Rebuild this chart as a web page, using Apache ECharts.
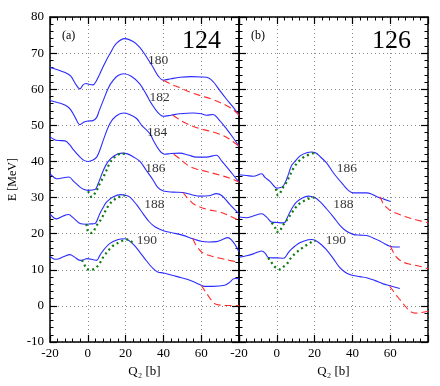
<!DOCTYPE html>
<html>
<head>
<meta charset="utf-8">
<script src="https://cdn.jsdelivr.net/npm/echarts@6/dist/echarts.min.js"></script>
<style>
  html, body { margin: 0; padding: 0; background: #fff; }
  #chart { width: 440px; height: 386px; }
</style>
</head>
<body>
<div id="chart"></div>
<script type="text/javascript">
	// panel (a), Z = 124 : blue = full curve, red = dashed branch, green = dotted
	var a180 = [[-20,66],[-16,65.4],[-12,64.6],[-9,63.6],[-6.5,61.5],[-4.2,60.1],[-2.5,61.2],[-1,61.6],[1,61.3],[2.8,61.2],[4.5,62.3],[6.4,64.3],[9,67.2],[11.7,69.8],[15,72.6],[19.6,74],[24,73.2],[27.5,71.6],[31,69],[34.6,66],[37.5,63.5],[40,62.5],[44,62.9],[48.7,63.3],[55,63.5],[60,63.4],[64,63.1],[66.5,62],[69.8,59.7],[73,57.5],[76.8,55.1],[80,52.8]];
	var a180d = [[40,62.5],[44,61.4],[48.7,60.4],[54,59.2],[59.2,58.3],[66.3,57.1],[73.3,55.5],[77,54.3],[80,52.8]];
	var a182 = [[-20,56.9],[-16,56.3],[-13.8,56],[-11,55.3],[-9,54.3],[-6.5,52],[-4.2,50.2],[-2,50.9],[0,51.2],[2.7,51.3],[4.7,52.2],[6,54],[8.2,56.9],[11,60.5],[13.5,62.5],[16,63.8],[19.1,64.3],[23,63.6],[27.5,61.5],[31,58.5],[33.7,56],[37,53.6],[40,52.5],[44,52.8],[48.7,53.2],[55.7,53.4],[60,53.2],[62.7,52.8],[66.3,53],[69,51.8],[73.3,49.1],[77,46.5],[80,44.2]];
	var a182d = [[45,52.8],[48.5,51.6],[52.2,50.5],[59.2,49.1],[68,47.9],[74,46.5],[80,44.2]];
	var a184 = [[-20,46.8],[-17.5,46],[-15.6,45.8],[-12,45.7],[-9.4,44.5],[-8,43.5],[-4.1,41.2],[-2,40.3],[0.2,40],[2.5,40.3],[4.7,41.2],[6.5,43.3],[8.2,45.9],[11.7,50.5],[15,52.6],[19,53.4],[22,53],[25.8,51.9],[28.5,50],[32.8,47.7],[35,45.5],[38,43],[40.7,42],[44,42.2],[48.7,42.3],[53,41.8],[57.5,41.2],[62.7,41.2],[68,41.7],[71,40],[75,37.5],[80,34.3]];
	var a184d = [[45.5,42],[49,40.6],[53,38.9],[57,38],[62.8,37.2],[70,36.2],[76,35.2],[80,34.3]];
	var a186 = [[-20,36.6],[-18,35.6],[-16.5,35.2],[-13,35.5],[-10,35.7],[-7.5,34.5],[-4.1,32.9],[-2,32.2],[0.2,32],[3.8,32.2],[5.5,33.9],[8.2,37.5],[10.5,39.8],[14,41.6],[18,42.3],[21,42.1],[24,41.3],[27.6,40],[31,37.5],[34.6,34.8],[37,32.8],[40,31.8],[45,31.5],[50.4,31.4],[55,30.8],[59.3,30.4],[64,30.5],[68,31.1],[71,30.5],[75,28.2],[80,25.5]];
	var a186d = [[50.4,31.4],[52.5,30],[54,29.2],[56,28.2],[59.3,27.4],[64,26.6],[69.8,26],[75,24.9],[80,23.7]];
	var a186g = [[0.2,31.8],[2,30.2],[4.7,32],[6.4,33.9],[9.1,36.6],[11.7,39.6],[14.5,41.3],[17.9,42.2],[20.5,42]];
	var a188 = [[-20,25.5],[-18,24.4],[-16.5,24.1],[-13,24.9],[-10.3,25.3],[-7.5,24.3],[-4.1,22.8],[-1,22.6],[1.5,22.7],[3.8,22.8],[5,23.8],[6.4,25.6],[8.5,27.6],[10,28.8],[13.5,30.2],[17.5,30.8],[20,30.6],[22.3,30.1],[26,27.9],[29.3,25.5],[32.5,23.3],[35.5,21.9],[40,20.8],[45,20.2],[50,19.6],[55.6,18.6],[60,17.9],[64,17.7],[68,17.8],[71,18.3],[74.1,18.9],[76,18.3],[78,16.9],[80,15]];
	var a188d = [[55.6,18.6],[57,17],[58.5,15.9],[60.5,14.8],[64,14],[70,13.2],[75,12.6],[80,12.1]];
	var a188g = [[-1,22.6],[-0.6,22.3],[0.2,20.5],[2,20.2],[4.7,22.3],[7.3,24.2],[9,26],[11.7,28.3],[14.5,29.6],[17,30.2],[19.5,30.5]];
	var a190 = [[-20,13.7],[-18,13],[-16.5,12.9],[-13,13.6],[-9.4,14.2],[-7,13.5],[-4.1,12.6],[-2,12.8],[-0.6,13.1],[2.9,12.8],[4.6,12.6],[6.4,14],[8.2,15.4],[11.7,17.3],[16.1,18.4],[19.6,18.6],[22,18],[24.5,16.8],[27.5,14.9],[31,12.5],[34.6,10.3],[37,9.4],[40,9.1],[45,8.4],[49.5,7.8],[55,6.9],[59.2,5.9],[61.8,5.4],[66,5.4],[72.4,5.7],[75,6.5],[76.8,7.4],[78,7.6],[80,7.5]];
	var a190d = [[60,5.7],[61.5,4.5],[63.6,2.9],[65.5,1.5],[67.2,0.6],[70,0.2],[73.3,0.1],[80,0.1]];
	var a190g = [[-3.3,12.6],[-2.4,12.2],[-0.6,10.3],[2,10],[5.5,11.2],[8.2,13.5],[12.6,16.3],[17,17.7],[21.4,18.4],[24,17.2]];

	// panel (b), Z = 126
	var b186 = [[-20,36.3],[-16,36.1],[-12.4,35.9],[-8,36.6],[-6.3,35.6],[-3.6,34.5],[-1.5,33.2],[-0.1,32.6],[2,32.8],[3.4,33.2],[5,34.8],[6,36.2],[7.8,38.9],[9.6,40],[12.5,41.6],[15.8,42.4],[18.5,42.6],[20.2,42.5],[23,41.3],[26.3,39.6],[30,36.8],[35.2,33.5],[38,31.9],[40.4,31.3],[44,31.3],[47.5,31.3],[50,31],[53.7,30.1],[57,29.5],[60.2,28.9]];
	var b186d = [[54.5,30.2],[55.5,29.2],[56.3,28.3],[58,27.3],[59.8,26.5],[64,25.5],[68.6,24.6],[74,23.8],[80,23]];
	var b186g = [[-0.5,32.4],[-0.1,31.5],[0.6,30.6],[2,31.5],[3.5,33],[5.2,34.3],[7,36.2],[8.7,38],[11,39.7],[14,41.1],[17,41.9],[20,42.3],[21.5,42]];
	var b188 = [[-20,24.6],[-16,24.4],[-12.4,24.9],[-8,25.5],[-5.4,24.6],[-2.7,23.2],[0,23.1],[3.4,23],[4.3,23.1],[5.6,24.5],[7,26],[8.7,27.6],[10.5,28.8],[13.5,29.9],[16.6,30.4],[20,30],[23,28.8],[26.3,26.9],[30,24.6],[33.4,22.3],[36.5,20.8],[40.4,19.8],[44,19.6],[47.5,19.5],[51,18.8],[54.5,18],[57,17.2],[59.8,16.5],[62,16.3],[65.1,16.3]];
	var b188d = [[60.2,16.5],[61.5,15],[63.3,13.5],[65,12.7],[66.9,12.1],[70,11.6],[75.6,11],[80,10.3]];
	var b188g = [[-2.7,23],[-1,21.8],[-0.1,20.5],[1.7,20.7],[2.6,21.8],[5.2,23.7],[7,25],[9.6,27],[12,28.3],[14.9,29.2],[17.5,29.8],[20,30]];
	var b190 = [[-20,13.5],[-16,13.9],[-12.4,14.4],[-8,15.2],[-6,14.5],[-4.5,13.4],[-2,13.3],[0,13.3],[3.4,13.2],[4.5,13.5],[6,14.7],[7.5,15.6],[9.5,16.5],[12.2,17.5],[16.6,18.3],[18.5,18.4],[21.1,17.9],[23,17.2],[26,15.7],[29.9,13.1],[33,10.8],[36,9.4],[38.5,8.7],[40.4,8.4],[44,8.1],[47.5,7.8],[52,7],[56.3,6.1],[60,5.6],[65.1,4.8]];
	var b190d = [[59.8,5.4],[61.5,4.2],[63.3,2.9],[65.5,1.5],[67.7,0.1],[69.5,-1],[71.2,-1.7],[73,-2],[75.6,-1.9],[80,-1.5]];
	var b190g = [[-4.5,13.3],[-3.6,12.6],[-1,10.8],[0.8,10.3],[1.7,10.1],[4.3,11.2],[5.2,11.5],[7.8,13.5],[10,14.6],[13.1,15.9],[16.5,17.1],[19.3,17.9],[20.5,18]];

	// curve labels (N) and where they sit
	var labelsA = [[37.2,68,'180'],[38,57.8,'182'],[36.7,48,'184'],[35.7,38,'186'],[35.2,28,'188'],[31.2,18,'190']];
	var labelsB = [[37.1,38,'186'],[35.2,28.1,'188'],[31.3,18,'190']];

	var xTicks = [-20, 80, 20];
	var yTicks = [-10, 80, 10];

	var FONT = 'Liberation Serif';
	var BLUE = '#2b2bff', RED = '#ff2a2a', GREEN = '#0c7a0c';

	function xAx(g, pos, labels) {
		return {
			gridIndex : g, type : 'value', position : pos,
			min : xTicks[0], max : xTicks[1], interval : xTicks[2],
			axisLine : { onZero : false, lineStyle : { color : '#000', width : 1.5 } },
			axisTick : { inside : true, length : 7, lineStyle : { color : '#000', width : 1.2 } },
			minorTick : { show : true, splitNumber : 5, length : 3.5, lineStyle : { color : '#000', width : 1 } },
			axisLabel : { show : labels, showMaxLabel : false, color : '#000', fontFamily : FONT, fontSize : 13, margin : 5 },
			splitLine : { show : labels, lineStyle : { color : '#8a8a8a', type : [1, 3], width : 1 } },
			name : labels ? 'Q\u2082 [b]' : '',
			nameLocation : 'middle', nameGap : 22,
			nameTextStyle : { color : '#000', fontFamily : FONT, fontSize : 13 }
		};
	}
	function yAx(g, pos, labels, grid) {
		return {
			gridIndex : g, type : 'value', position : pos,
			min : yTicks[0], max : yTicks[1], interval : yTicks[2],
			axisLine : { onZero : false, lineStyle : { color : '#000', width : 1.5 } },
			axisTick : { inside : true, length : 7, lineStyle : { color : '#000', width : 1.2 } },
			minorTick : { show : true, splitNumber : 5, length : 3.5, lineStyle : { color : '#000', width : 1 } },
			axisLabel : { show : labels, color : '#000', fontFamily : FONT, fontSize : 13, margin : 6 },
			splitLine : { show : grid, lineStyle : { color : '#8a8a8a', type : [1, 3], width : 1 } },
			name : labels ? 'E [MeV]' : '',
			nameLocation : 'middle', nameGap : 31,
			nameTextStyle : { color : '#000', fontFamily : FONT, fontSize : 12 }
		};
	}

	function line(d, g, kind) {
		var ls = { color : BLUE, width : 1.1 };
		if (kind === 'd') ls = { color : RED, width : 1.1, type : [7, 4] };
		if (kind === 'g') ls = { color : GREEN, width : 2.2, type : [2, 3.2] };
		return {
			type : 'line', data : d, xAxisIndex : g * 2, yAxisIndex : g * 2,
			smooth : 0.35, showSymbol : false, symbol : 'none',
			lineStyle : ls, z : kind === 'g' ? 3 : 2, silent : true
		};
	}
	function labels(d, g) {
		return {
			type : 'scatter', data : d, xAxisIndex : g * 2, yAxisIndex : g * 2,
			symbolSize : 1, itemStyle : { color : 'rgba(0,0,0,0)' }, z : 5,
			label : { show : true, position : 'inside', color : '#000', fontFamily : FONT, fontSize : 13.5,
				formatter : function(p) { return p.data[2]; } }
		};
	}

	var series = [];
	[[a180,0,'b'],[a180d,0,'d'],[a182,0,'b'],[a182d,0,'d'],[a184,0,'b'],[a184d,0,'d'],
	 [a186,0,'b'],[a186d,0,'d'],[a186g,0,'g'],[a188,0,'b'],[a188d,0,'d'],[a188g,0,'g'],
	 [a190,0,'b'],[a190d,0,'d'],[a190g,0,'g'],
	 [b186,1,'b'],[b186d,1,'d'],[b186g,1,'g'],[b188,1,'b'],[b188d,1,'d'],[b188g,1,'g'],
	 [b190,1,'b'],[b190d,1,'d'],[b190g,1,'g']].forEach(function(s) {
		series.push(line(s[0], s[1], s[2]));
	});
	series.push(labels(labelsA, 0));
	series.push(labels(labelsB, 1));

	var option = {
		animation : false,
		backgroundColor : '#fff',
		grid : [
			{ left : 50, top : 17, width : 189, height : 325 },
			{ left : 239, top : 17, width : 189, height : 325 }
		],
		xAxis : [ xAx(0, 'bottom', true), xAx(0, 'top', false), xAx(1, 'bottom', true), xAx(1, 'top', false) ],
		yAxis : [ yAx(0, 'left', true, true), yAx(0, 'right', false, false), yAx(1, 'left', false, true), yAx(1, 'right', false, false) ],
		graphic : [
			{ type : 'text', left : 62, top : 30, style : { text : '(a)', font : '12px "Liberation Serif"', fill : '#000' } },
			{ type : 'text', left : 182, top : 28, style : { text : '124', font : '26px "Liberation Serif"', fill : '#000' } },
			{ type : 'text', left : 251, top : 30, style : { text : '(b)', font : '12px "Liberation Serif"', fill : '#000' } },
			{ type : 'text', left : 372, top : 28, style : { text : '126', font : '26px "Liberation Serif"', fill : '#000' } }
		],
		series : series
	};

	var chart = echarts.init(document.getElementById('chart'));
	chart.setOption(option);
</script>
</body>
</html>
